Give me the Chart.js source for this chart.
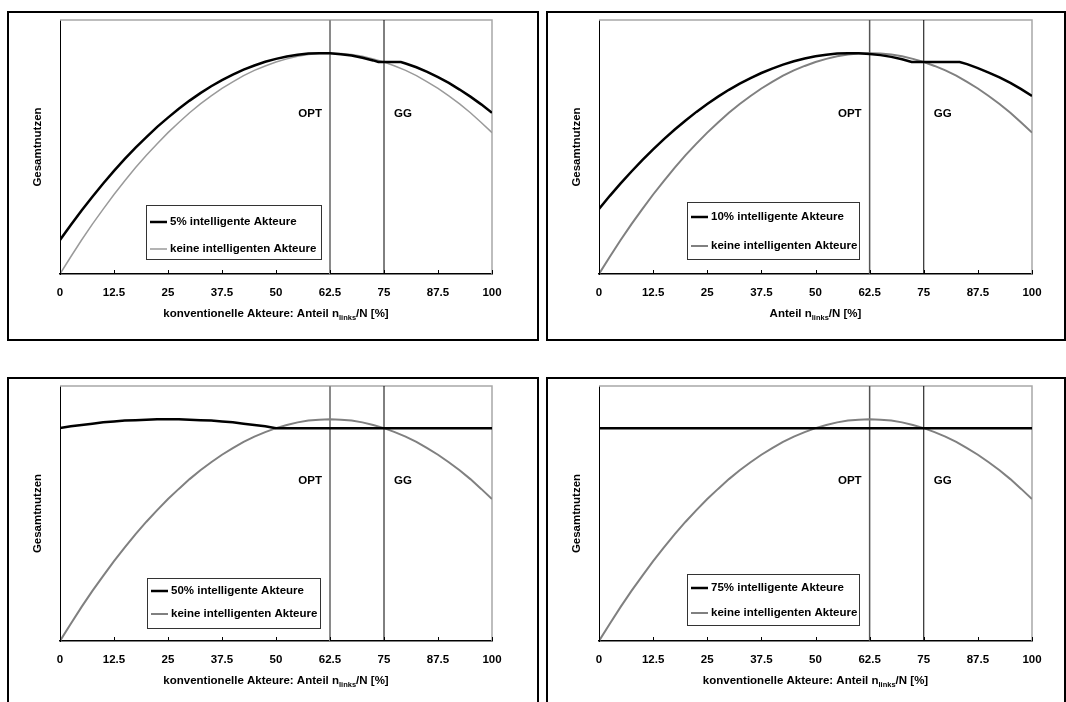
<!DOCTYPE html>
<html>
<head>
<meta charset="utf-8">
<script src="https://cdn.jsdelivr.net/npm/chart.js@4/dist/chart.umd.min.js"></script>
<style>
  html, body { margin: 0; padding: 0; background: #fff; }
  body { width: 1066px; height: 702px; overflow: hidden; position: relative; }
  .panel { position: absolute; border: 2px solid #000; box-sizing: border-box; background: #fff; }
  .panel canvas { position: absolute; left: 0; top: 0; }
</style>
</head>
<body>
<div class="panel" style="left:7px;top:11px;width:532px;height:330px"><canvas id="c1" width="528" height="326" style="width:528px;height:326px"></canvas></div>
<div class="panel" style="left:546px;top:11px;width:520px;height:330px"><canvas id="c2" width="516" height="326" style="width:516px;height:326px"></canvas></div>
<div class="panel" style="left:7px;top:377px;width:532px;height:340px"><canvas id="c3" width="528" height="326" style="width:528px;height:326px"></canvas></div>
<div class="panel" style="left:546px;top:377px;width:520px;height:340px"><canvas id="c4" width="516" height="326" style="width:516px;height:326px"></canvas></div>
<script>
// x axis: share of conventional agents in percent
const xTickValues = [0, 12.5, 25, 37.5, 50, 62.5, 75, 87.5, 100];
const optX = 62.5;   // social optimum
const ggX = 75;      // equilibrium (Gleichgewicht)

// total utility without intelligent agents
const xKeine = [0, 2.5, 5, 7.5, 10, 12.5, 15, 17.5, 20, 22.5, 25, 27.5, 30, 32.5, 35, 37.5, 40, 42.5, 45, 47.5,
                50, 52.5, 55, 57.5, 60, 62.5, 65, 67.5, 70, 72.5, 75, 77.5, 80, 82.5, 85, 87.5, 90, 92.5, 95, 97.5, 100];
const nutzenKeine = [0, 7.8, 15.4, 22.6, 29.4, 36, 42.2, 48.2, 53.8, 59, 64, 68.6, 73, 77, 80.6, 84, 87, 89.8, 92.2, 94.2,
                     96, 97.4, 98.6, 99.4, 99.8, 100, 99.8, 99.4, 98.6, 97.4, 96, 94.2, 92.2, 89.8, 87, 84, 80.6, 77, 73, 68.6, 64];

// total utility with 5% intelligent agents
const x5 = [0, 2.5, 5, 7.5, 10, 12.5, 15, 17.5, 20, 22.5, 25, 27.5, 30, 32.5, 35, 37.5, 40, 42.5, 45, 47.5,
            50, 52.5, 55, 57.5, 60, 62.5, 65, 67.5, 70, 72.5, 73.7, 78.9, 80, 82.5, 85, 87.5, 90, 92.5, 95, 97.5, 100];
const nutzen5 = [15.4, 22.2, 28.8, 35, 41, 46.7, 52.1, 57.2, 62, 66.6, 70.8, 74.8, 78.5, 81.9, 85, 87.8, 90.3, 92.5, 94.4, 96.1,
                 97.4, 98.5, 99.3, 99.8, 100, 99.9, 99.5, 98.9, 97.9, 96.7, 96, 96, 95.3, 93.6, 91.5, 89.1, 86.5, 83.5, 80.3, 76.8, 73];

// total utility with 10% intelligent agents
const x10 = [0, 2.5, 5, 7.5, 10, 12.5, 15, 17.5, 20, 22.5, 25, 27.5, 30, 32.5, 35, 37.5, 40, 42.5, 45, 47.5,
             50, 52.5, 55, 57.5, 60, 62.5, 65, 67.5, 70, 72.2, 83.3, 85, 87.5, 90, 92.5, 95, 97.5, 100];
const nutzen10 = [29.4, 35.4, 41, 46.4, 51.6, 56.4, 61.1, 65.4, 69.5, 73.4, 77, 80.3, 83.4, 86.2, 88.7, 91, 93, 94.8, 96.3, 97.6,
                  98.6, 99.3, 99.8, 100, 99.9, 99.6, 99.1, 98.3, 97.2, 96, 96, 95, 93.2, 91.2, 89, 86.5, 83.7, 80.6];

// total utility with 50% intelligent agents
const x50 = [0, 2.5, 5, 7.5, 10, 12.5, 15, 17.5, 20, 22.5, 25, 27.5, 30, 32.5, 35, 37.5, 40, 42.5, 45, 47.5, 50, 100];
const nutzen50 = [96, 96.8, 97.4, 98, 98.6, 99, 99.4, 99.6, 99.8, 100, 100, 100, 99.8, 99.6, 99.4, 99, 98.6, 98, 97.4, 96.8, 96, 96];

// total utility with 75% intelligent agents
const x75 = [0, 100];
const nutzen75 = [96, 96];

const yMax = 115;
const FONT = 'Arial, "Liberation Sans", Helvetica, sans-serif';
const FS = 11.5;

const toPoints = (xs, ys) => xs.map((x, i) => ({ x, y: ys[i] }));

// frame, inner tick marks, OPT/GG labels, boxed legend and x-axis title with subscript
const panelDecor = {
  id: 'panelDecor',
  beforeDatasetsDraw(chart, args, o) {
    const { ctx, chartArea: a } = chart;
    ctx.save();
    ctx.strokeStyle = '#a8a8a8';
    ctx.lineWidth = 1.5;
    ctx.beginPath();
    ctx.moveTo(a.left, a.top);
    ctx.lineTo(a.right, a.top);
    ctx.lineTo(a.right, a.bottom);
    ctx.stroke();
    ctx.restore();
  },
  afterDatasetsDraw(chart, args, o) {
    const { ctx, chartArea: a, scales } = chart;
    const xs = scales.x;
    ctx.save();
    // tick marks pointing into the plot
    ctx.strokeStyle = '#000';
    ctx.lineWidth = 1;
    xTickValues.forEach(v => {
      const px = Math.round(xs.getPixelForValue(v)) + 0.5;
      ctx.beginPath();
      ctx.moveTo(px, a.bottom);
      ctx.lineTo(px, a.bottom - 4);
      ctx.stroke();
    });
    // OPT / GG labels
    ctx.fillStyle = '#000';
    ctx.font = 'bold ' + FS + 'px ' + FONT;
    ctx.textBaseline = 'middle';
    const ly = a.top + o.markLabelY;
    ctx.textAlign = 'right';
    ctx.fillText('OPT', xs.getPixelForValue(optX) - 8, ly);
    ctx.textAlign = 'left';
    ctx.fillText('GG', xs.getPixelForValue(ggX) + 10, ly);

    // legend box
    const L = o.legend;
    const bx = a.left + L.x, by = a.top + L.y;
    ctx.fillStyle = '#fff';
    ctx.fillRect(bx, by, L.w, L.h);
    ctx.strokeStyle = '#333';
    ctx.lineWidth = 1;
    ctx.strokeRect(Math.round(bx) + 0.5, Math.round(by) + 0.5, L.w, L.h);
    chart.data.datasets.slice(0, 2).forEach((ds, i) => {
      const ry = by + L.rows[i];
      ctx.strokeStyle = ds.borderColor;
      ctx.lineWidth = ds.borderWidth;
      ctx.beginPath();
      ctx.moveTo(bx + 4, ry);
      ctx.lineTo(bx + 21, ry);
      ctx.stroke();
      ctx.fillStyle = '#000';
      ctx.textAlign = 'left';
      ctx.fillText(ds.label, bx + 24, ry);
    });

    // x-axis title with subscript
    const [t1, tSub, t2] = o.xTitle;
    const mainFont = 'bold ' + FS + 'px ' + FONT, subFont = 'bold 7.5px ' + FONT;
    ctx.font = mainFont; const w1 = ctx.measureText(t1).width, w3 = ctx.measureText(t2).width;
    ctx.font = subFont; const w2 = ctx.measureText(tSub).width;
    let tx = (a.left + a.right) / 2 - (w1 + w2 + w3) / 2;
    const ty = a.bottom + o.titleY;
    ctx.textAlign = 'left';
    ctx.textBaseline = 'alphabetic';
    ctx.fillStyle = '#000';
    ctx.font = mainFont; ctx.fillText(t1, tx, ty + 4); tx += w1;
    ctx.font = subFont; ctx.fillText(tSub, tx, ty + 6.5); tx += w2;
    ctx.font = mainFont; ctx.fillText(t2, tx, ty + 4);
    ctx.restore();
  }
};

function makePanel(id, cfg) {
  const ctx = document.getElementById(id);
  return new Chart(ctx, {
    type: 'line',
    data: {
      datasets: [
        { label: cfg.label, data: toPoints(cfg.xs, cfg.ys), borderColor: '#000', borderWidth: cfg.blackWidth,
          pointRadius: 0, tension: 0, fill: false, order: 1 },
        { label: 'keine intelligenten Akteure', data: toPoints(xKeine, nutzenKeine), borderColor: cfg.grayColor,
          borderWidth: cfg.grayWidth, pointRadius: 0, tension: 0, fill: false, order: 2 },
        { label: 'OPT', data: [{ x: optX, y: 0 }, { x: optX, y: yMax }], borderColor: cfg.optColor,
          borderWidth: cfg.optWidth, pointRadius: 0, order: 3 },
        { label: 'GG', data: [{ x: ggX, y: 0 }, { x: ggX, y: yMax }], borderColor: '#000',
          borderWidth: 1, pointRadius: 0, order: 4 }
      ]
    },
    options: {
      responsive: false,
      animation: false,
      events: [],
      layout: { padding: { left: 0, top: cfg.padTop, right: cfg.padRight, bottom: 0 } },
      scales: {
        x: {
          type: 'linear', min: 0, max: 100,
          afterBuildTicks: s => { s.ticks = xTickValues.map(v => ({ value: v })); },
          afterFit: s => { s.height = cfg.xHeight; },
          grid: { display: false, drawTicks: false },
          border: { display: true, color: '#000', width: 1.5 },
          ticks: { autoSkip: false, maxRotation: 0, padding: 12, color: '#000',
                   font: { family: FONT, size: FS, weight: 'bold' },
                   callback: v => String(v) }
        },
        y: {
          min: 0, max: yMax,
          afterFit: s => { s.width = 51; },
          grid: { display: false, drawTicks: false },
          border: { display: true, color: '#000', width: 1 },
          ticks: { display: false },
          title: { display: true, text: 'Gesamtnutzen', color: '#000',
                   font: { family: FONT, size: FS, weight: 'bold' }, padding: { top: 22, bottom: 0 } }
        }
      },
      plugins: {
        legend: { display: false },
        tooltip: { enabled: false },
        panelDecor: {
          markLabelY: cfg.markLabelY,
          legend: cfg.legend,
          xTitle: cfg.xTitle,
          titleY: 39
        }
      }
    },
    plugins: [panelDecor]
  });
}

const titleLong = ['konventionelle Akteure: Anteil n', 'links', '/N [%]'];
const titleShort = ['Anteil n', 'links', '/N [%]'];

makePanel('c1', {
  label: '5% intelligente Akteure', xs: x5, ys: nutzen5,
  blackWidth: 2.5, grayColor: '#9a9a9a', grayWidth: 1.5, optColor: '#8a8a8a', optWidth: 2,
  padTop: 7, padRight: 45, xHeight: 65, markLabelY: 94,
  legend: { x: 86, y: 185, w: 175, h: 54, rows: [17, 44] }, xTitle: titleLong
});
makePanel('c2', {
  label: '10% intelligente Akteure', xs: x10, ys: nutzen10,
  blackWidth: 2.5, grayColor: '#808080', grayWidth: 2, optColor: '#555', optWidth: 1.5,
  padTop: 7, padRight: 32, xHeight: 65, markLabelY: 94,
  legend: { x: 88, y: 182, w: 172, h: 57, rows: [15, 44] }, xTitle: titleShort
});
makePanel('c3', {
  label: '50% intelligente Akteure', xs: x50, ys: nutzen50,
  blackWidth: 2.5, grayColor: '#808080', grayWidth: 2, optColor: '#8a8a8a', optWidth: 2,
  padTop: 7, padRight: 45, xHeight: 64, markLabelY: 95,
  legend: { x: 87, y: 192, w: 173, h: 50, rows: [13, 36] }, xTitle: titleLong
});
makePanel('c4', {
  label: '75% intelligente Akteure', xs: x75, ys: nutzen75,
  blackWidth: 2.5, grayColor: '#808080', grayWidth: 2, optColor: '#555', optWidth: 1.5,
  padTop: 7, padRight: 32, xHeight: 64, markLabelY: 95,
  legend: { x: 88, y: 188, w: 172, h: 51, rows: [14, 39] }, xTitle: titleLong
});
</script>
</body>
</html>
